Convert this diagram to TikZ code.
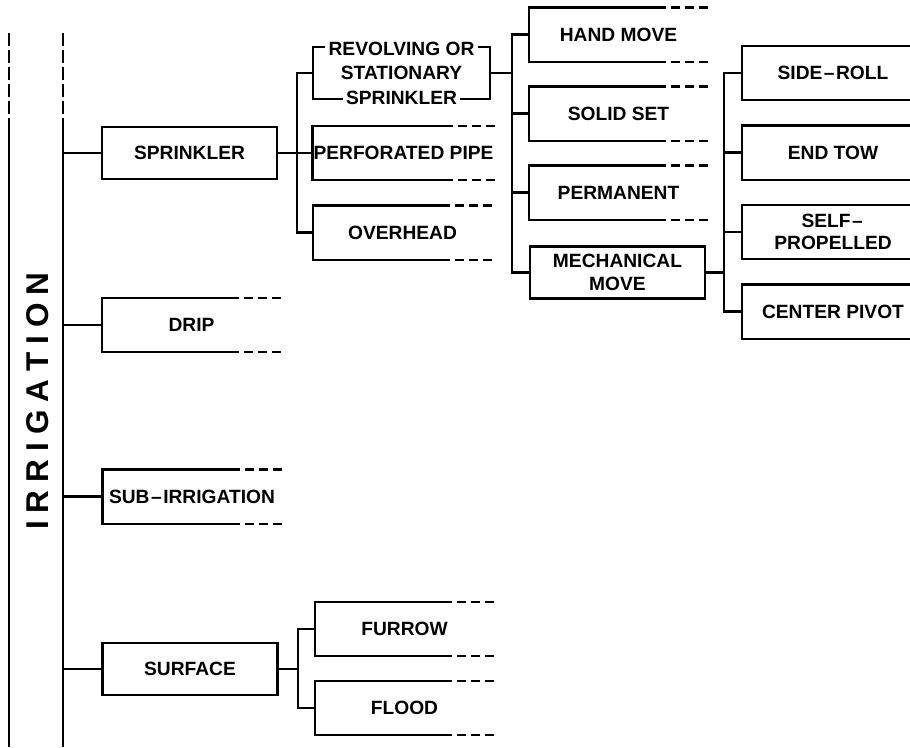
\documentclass[tikz,border=0pt]{standalone}
\usepackage{fontspec}
\setmainfont{Liberation Sans}
\usepackage{tikz}
\usetikzlibrary{calc}
\setlength{\fboxsep}{0pt}

\tikzstyle{wire} = [line width=2.3pt]
\tikzstyle{stub} = [line width=2.3pt, dash pattern=on 9pt off 5pt, dash phase=9pt]
\tikzstyle{rail} = [line width=2.3pt, dash pattern=on 13pt off 4pt]
\tikzstyle{entry} = [minimum width=177pt, minimum height=52pt, inner sep=0pt, align=center,
  font=\bfseries\fontsize{19.2}{22.5}\selectfont]
\tikzstyle{closedbox} = [entry, draw, minimum width=175pt, line width=2.3pt]

\newcommand{\dash}{\kern1.5pt–\kern1.5pt}

\begin{document}
\begin{tikzpicture}[x=1pt, y=-1pt, wire]
  \useasboundingbox (0,0) rectangle (910,747);

  % title column
  \node[rotate=90, font=\bfseries\fontsize{31.5}{36}\selectfont] (title) at (38,401)
    {I\kern8pt R\kern8pt R\kern8pt I\kern8pt G\kern8pt A\kern8pt T\kern8pt I\kern8pt O\kern8pt N};
  \draw[rail] (9,33) -- (9,118);
  \draw (9,118) -- (9,747);
  \draw[rail] (63,33) -- (63,125);
  \draw (63,125) -- (63,747);
  \coordinate (trunk) at (63,0);
  \coordinate (sbus) at (297,0);
  \coordinate (rbus) at (512,0);
  \coordinate (mbus) at (724,0);
  \coordinate (fbus) at (298,0);
  \coordinate (edge) at (910,0);

  % first level
  \node[closedbox] (sprinkler) at (189.5,153) {SPRINKLER};
  \node[entry] (drip) at (191.5,325) {DRIP};
  \node[entry] (subirr) at (192,496.5) {SUB\dash IRRIGATION};
  \node[closedbox] (surface) at (190,669) {SURFACE};
  \foreach \n in {sprinkler, drip, subirr, surface}
    \draw (\n.west) -- (\n.west -| trunk);

  % sprinkler
  \node[entry, draw] (revolving) at (401.5,73) {};
  \node[entry, font=\bfseries\fontsize{19.2}{24.5}\selectfont] (revolvingtext) at (revolving)
    {\colorbox{white}{\,REVOLVING OR\,}\\STATIONARY\\\colorbox{white}{\,SPRINKLER\,}};
  \node[entry] (perforated) at (403.5,153) {PERFORATED PIPE};
  \node[entry] (overhead) at (402.5,232.5) {OVERHEAD};
  \draw (sprinkler.east) -- (perforated.west);
  \draw (revolving.west) -- (revolving.west -| sbus) |- (overhead.west);

  % revolving or stationary
  \node[entry] (handmove) at (618.5,34.5) {HAND MOVE};
  \node[entry] (solidset) at (618.5,113.5) {SOLID SET};
  \node[entry] (permanent) at (618.5,192.5) {PERMANENT};
  \node[closedbox] (mechmove) at (617.5,272.5) {MECHANICAL\\MOVE};
  \draw (revolving.east) -- (revolving.east -| rbus);
  \draw (handmove.west) -- (handmove.west -| rbus) |- (mechmove.west);
  \draw (solidset.west) -- (solidset.west -| rbus);
  \draw (permanent.west) -- (permanent.west -| rbus);

  % mechanical move
  \node[entry, minimum width=180pt] (sideroll) at (833,73) {SIDE\dash ROLL};
  \node[entry, minimum width=180pt] (endtow) at (833,152.5) {END TOW};
  \node[entry, minimum width=180pt] (selfprop) at (833,232) {SELF\dash\\PROPELLED};
  \node[entry, minimum width=180pt] (centerpivot) at (833,311.5) {CENTER PIVOT};
  \foreach \n in {sideroll, endtow, selfprop, centerpivot}
    \draw (\n.north west -| edge) -- (\n.north west) -- (\n.south west) -- (\n.south west -| edge);
  \draw (mechmove.east) -- (mechmove.east -| mbus);
  \draw (sideroll.west) -- (sideroll.west -| mbus) |- (centerpivot.west);
  \draw (endtow.west) -- (endtow.west -| mbus);
  \draw (selfprop.west) -- (selfprop.west -| mbus);

  % surface
  \node[entry] (furrow) at (404.5,629) {FURROW};
  \node[entry] (flood) at (404.5,708) {FLOOD};
  \draw (surface.east) -- (surface.east -| fbus);
  \draw (furrow.west) -- (furrow.west -| fbus) |- (flood.west);

  % open ends
  \foreach \n in {drip, subirr, perforated, overhead, handmove, solidset, permanent, furrow, flood} {
    \draw ([xshift=-42pt]\n.north east) -- (\n.north west) -- (\n.south west) -- ([xshift=-42pt]\n.south east);
    \draw[stub] ([xshift=-42pt]\n.north east) -- (\n.north east);
    \draw[stub] ([xshift=-42pt]\n.south east) -- (\n.south east);
  }
\end{tikzpicture}
\end{document}
